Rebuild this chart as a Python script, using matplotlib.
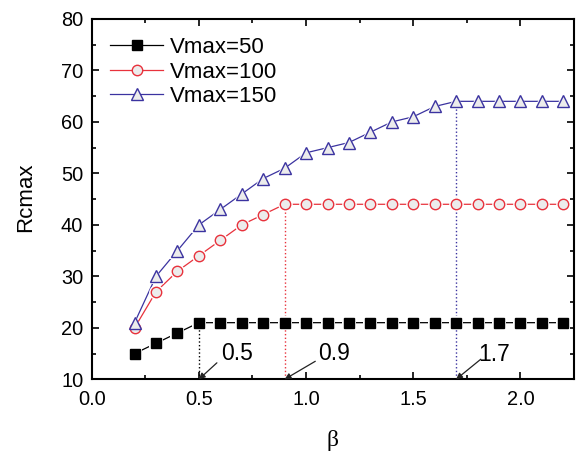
import matplotlib
matplotlib.use("Agg")
import matplotlib.pyplot as plt
from matplotlib.ticker import MultipleLocator

plt.rcParams['font.family'] = ['Liberation Sans', 'DejaVu Sans']

beta = [0.2, 0.3, 0.4, 0.5, 0.6, 0.7, 0.8, 0.9, 1.0, 1.1, 1.2, 1.3, 1.4,
        1.5, 1.6, 1.7, 1.8, 1.9, 2.0, 2.1, 2.2]
v50 = [15, 17, 19, 21, 21, 21, 21, 21, 21, 21, 21, 21, 21, 21, 21, 21, 21, 21, 21, 21, 21]
v100 = [20, 27, 31, 34, 37, 40, 42, 44, 44, 44, 44, 44, 44, 44, 44, 44, 44, 44, 44, 44, 44]
v150 = [21, 30, 35, 40, 43, 46, 49, 51, 54, 55, 56, 58, 60, 61, 63, 64, 64, 64, 64, 64, 64]
labels = ["Vmax=50", "Vmax=100", "Vmax=150"]
marks = [(0.5, 21, "0.5"), (0.9, 44, "0.9"), (1.7, 64, "1.7")]

fig = plt.figure(figsize=(5.83, 4.53), dpi=100)
ax = fig.add_axes([0.1573, 0.1627, 0.8273, 0.7954])

red = '#e8323c'
blue = '#3b33a0'
fill = '#ececec'
series = [
    (v50, 'k', 's', 'k', 'k', 6.5),
    (v100, red, 'o', red, fill, 7.5),
    (v150, blue, '^', blue, fill, 9),
]
for (vals, lc, m, mec, mfc, ms), lab in zip(series, labels):
    ax.plot(beta, vals, color=lc, lw=0.9, zorder=2)
    ax.plot(beta, vals, ls='none', marker=m, ms=ms + 3, mfc='white', mec='white',
            mew=0, zorder=3)
    ax.plot(beta, vals, ls='none', marker=m, ms=ms, mfc=mfc, mec=mec, mew=1.0,
            zorder=4)
    ax.plot([], [], color=lc, lw=0.9, marker=m, ms=ms, mfc=mfc, mec=mec,
            mew=1.0, label=lab)

vcols = ['k', red, blue]
txt_off = [(0.678, 15.1), (1.129, 15.1), (1.877, 14.9)]
arr_off = [(0.584, 13.2), (1.043, 13.5), (1.815, 13.9)]
for (xv, yv, s), c, (tx, ty), (axx, ayy) in zip(marks, vcols, txt_off, arr_off):
    ax.plot([xv, xv], [10, yv], ls=':', color=c, lw=1.0, zorder=1)
    ax.annotate('', xy=(xv, 10), xytext=(axx, ayy),
                arrowprops=dict(arrowstyle='-|>', color='#222222', lw=0.9,
                                mutation_scale=9, shrinkA=0, shrinkB=0))
    ax.text(tx, ty, s, ha='center', va='center', fontsize=16.5)

ax.set_xlim(0, 2.25)
ax.set_ylim(10, 80)
ax.xaxis.set_major_locator(MultipleLocator(0.5))
ax.xaxis.set_minor_locator(MultipleLocator(0.25))
ax.yaxis.set_major_locator(MultipleLocator(10))
ax.yaxis.set_minor_locator(MultipleLocator(5))
ax.tick_params(which='both', direction='in', top=True, right=True, width=1.2)
ax.tick_params(which='major', length=5, labelsize=14.4)
ax.tick_params(which='minor', length=3)
ax.tick_params(axis='x', which='major', pad=7.5)
ax.tick_params(axis='y', which='major', pad=6)
for sp in ax.spines.values():
    sp.set_linewidth(1.5)

ax.set_xlabel('β', fontsize=17, family=['Liberation Serif', 'DejaVu Serif'])
ax.xaxis.set_label_coords(0.5, -0.142)
ax.set_ylabel('Rcmax', fontsize=16)
ax.yaxis.set_label_coords(-0.115, 0.505)

ax.legend(loc='upper left', frameon=False, fontsize=16, handlelength=2.4,
          borderaxespad=0.42, labelspacing=0.15, handletextpad=0.3)

fig.savefig('out.png', dpi=100)
